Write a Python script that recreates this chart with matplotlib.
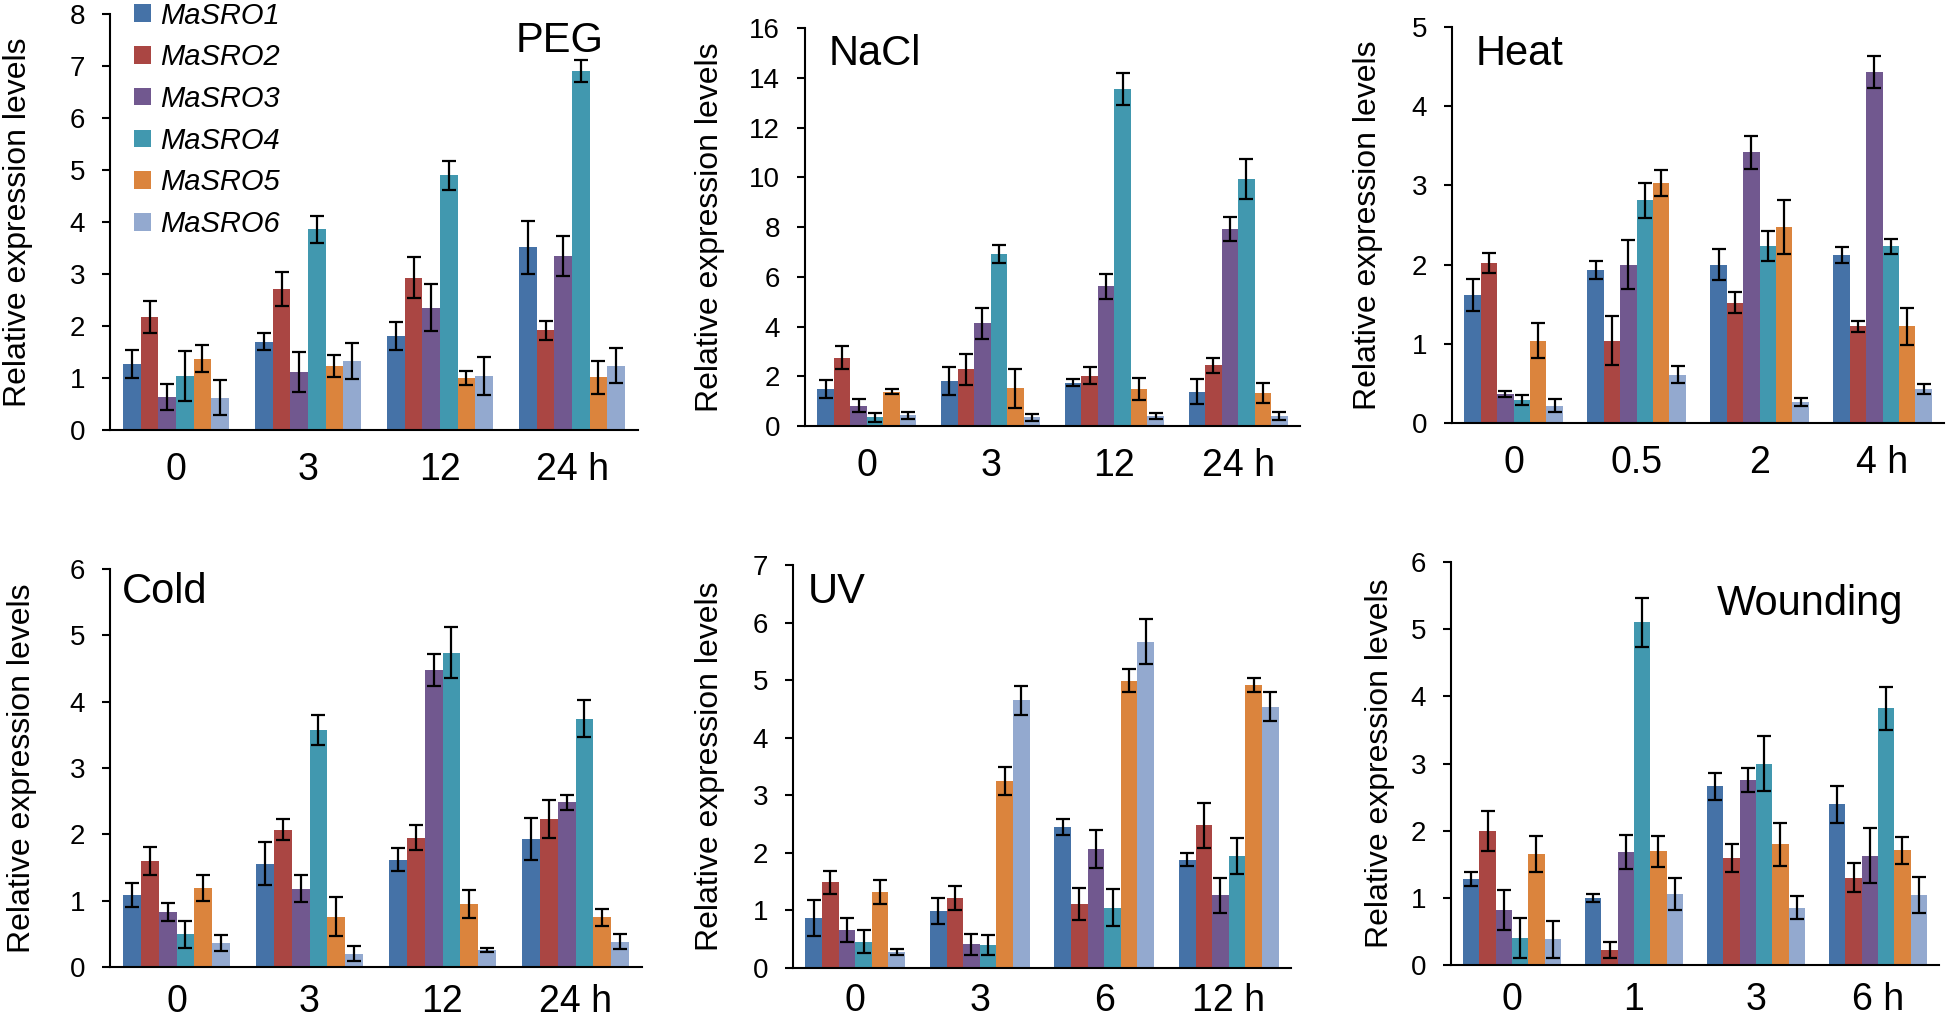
import numpy as np
import matplotlib
matplotlib.use("Agg")
import matplotlib.pyplot as plt

plt.rcParams['font.family'] = ['Liberation Sans', 'DejaVu Sans']

genes = ['MaSRO1', 'MaSRO2', 'MaSRO3', 'MaSRO4', 'MaSRO5', 'MaSRO6']
colors = ['#4572A7', '#AA4643', '#71588F', '#4198AF', '#DB843D', '#93A9CF']

# PEG
peg_times = ['0', '3', '12', '24 h']
peg_mean = [[1.27, 1.70, 1.81, 3.51],
            [2.17, 2.71, 2.93, 1.92],
            [0.64, 1.12, 2.35, 3.35],
            [1.03, 3.86, 4.90, 6.90],
            [1.37, 1.23, 1.00, 1.01],
            [0.62, 1.33, 1.04, 1.24]]
peg_err = [[0.27, 0.16, 0.27, 0.51],
           [0.31, 0.33, 0.40, 0.18],
           [0.25, 0.38, 0.45, 0.39],
           [0.48, 0.26, 0.28, 0.21],
           [0.26, 0.21, 0.14, 0.32],
           [0.34, 0.34, 0.37, 0.33]]

# NaCl
nacl_times = ['0', '3', '12', '24 h']
nacl_mean = [[1.49, 1.81, 1.74, 1.38],
             [2.75, 2.28, 2.03, 2.44],
             [0.82, 4.13, 5.62, 7.92],
             [0.35, 6.90, 13.54, 9.93],
             [1.38, 1.52, 1.48, 1.34],
             [0.43, 0.36, 0.42, 0.40]]
nacl_err = [[0.35, 0.57, 0.14, 0.50],
            [0.46, 0.63, 0.35, 0.30],
            [0.27, 0.62, 0.51, 0.48],
            [0.17, 0.36, 0.65, 0.81],
            [0.10, 0.78, 0.44, 0.40],
            [0.13, 0.14, 0.12, 0.15]]

# Heat
heat_times = ['0', '0.5', '2', '4 h']
heat_mean = [[1.62, 1.93, 2.00, 2.12],
             [2.02, 1.04, 1.52, 1.22],
             [0.37, 2.00, 3.42, 4.43],
             [0.29, 2.81, 2.23, 2.23],
             [1.04, 3.03, 2.47, 1.22],
             [0.22, 0.61, 0.26, 0.43]]
heat_err = [[0.20, 0.11, 0.20, 0.10],
            [0.13, 0.31, 0.13, 0.07],
            [0.04, 0.31, 0.21, 0.20],
            [0.06, 0.22, 0.19, 0.09],
            [0.22, 0.16, 0.34, 0.23],
            [0.08, 0.11, 0.05, 0.06]]

# Cold
cold_times = ['0', '3', '12', '24 h']
cold_mean = [[1.09, 1.56, 1.62, 1.93],
             [1.60, 2.07, 1.95, 2.23],
             [0.83, 1.18, 4.48, 2.48],
             [0.49, 3.57, 4.74, 3.74],
             [1.19, 0.76, 0.95, 0.75],
             [0.36, 0.20, 0.25, 0.38]]
cold_err = [[0.18, 0.32, 0.18, 0.31],
            [0.21, 0.16, 0.19, 0.29],
            [0.13, 0.20, 0.24, 0.12],
            [0.20, 0.23, 0.38, 0.28],
            [0.20, 0.29, 0.21, 0.13],
            [0.12, 0.11, 0.03, 0.11]]

# UV
uv_times = ['0', '3', '6', '12 h']
uv_mean = [[0.87, 0.99, 2.45, 1.88],
           [1.49, 1.21, 1.11, 2.48],
           [0.66, 0.41, 2.07, 1.26],
           [0.46, 0.40, 1.05, 1.95],
           [1.32, 3.25, 4.99, 4.92],
           [0.28, 4.65, 5.67, 4.54]]
uv_err = [[0.31, 0.22, 0.14, 0.11],
          [0.20, 0.21, 0.28, 0.39],
          [0.20, 0.18, 0.33, 0.31],
          [0.20, 0.18, 0.32, 0.31],
          [0.20, 0.24, 0.20, 0.12],
          [0.05, 0.25, 0.39, 0.25]]

# Wounding
wound_times = ['0', '1', '3', '6 h']
wound_mean = [[1.28, 1.00, 2.66, 2.39],
              [2.00, 0.22, 1.59, 1.30],
              [0.82, 1.68, 2.75, 1.63],
              [0.40, 5.10, 3.00, 3.82],
              [1.65, 1.69, 1.80, 1.71],
              [0.38, 1.06, 0.85, 1.04]]
wound_err = [[0.11, 0.06, 0.20, 0.27],
             [0.30, 0.12, 0.21, 0.22],
             [0.30, 0.25, 0.18, 0.41],
             [0.30, 0.37, 0.41, 0.32],
             [0.27, 0.23, 0.32, 0.20],
             [0.27, 0.24, 0.17, 0.27]]

W, H = 1946, 1023
fig = plt.figure(figsize=(W / 100, H / 100), dpi=100)


def px_axes(left, right, top, bottom):
    # pixel box -> figure fraction axes
    return fig.add_axes([left / W, 1 - bottom / H, (right - left) / W, (bottom - top) / H])


def draw(ax, times, mean, err, ymax, step, title, tx, ty, lx, xpad=16):
    x = np.arange(len(times))
    w = 0.8 / 6
    for i in range(6):
        ax.bar(x - 0.4 + w * (i + 0.5), mean[i], w, yerr=err[i], color=colors[i],
               label=genes[i], linewidth=0,
               error_kw=dict(ecolor='black', elinewidth=1.6, capsize=5, capthick=1.6))
    ax.set_xlim(-0.5, len(times) - 0.5)
    ax.set_ylim(0, ymax)
    ax.set_yticks(np.arange(0, ymax + 0.01, step))
    ax.set_xticks(x)
    ax.set_xticklabels(times, fontsize=27)
    ax.tick_params(axis='x', length=0, pad=xpad)
    ax.tick_params(axis='y', labelsize=20, length=6, width=1.5, direction='out', pad=12)
    for s in ['top', 'right']:
        ax.spines[s].set_visible(False)
    for s in ['left', 'bottom']:
        ax.spines[s].set_linewidth(1.5)
    ax.set_ylabel('Relative expression levels', fontsize=23)
    ax.yaxis.set_label_coords(lx, 0.5)
    fig.text(tx / W, 1 - ty / H, title, fontsize=30, ha='left', va='center')


ax1 = px_axes(110, 638, 14, 430)
draw(ax1, peg_times, peg_mean, peg_err, 8, 1, 'PEG', 516, 41, -0.146)
leg = ax1.legend(loc='upper left', bbox_to_anchor=(0.045, 1.03), frameon=False,
                 prop={'style': 'italic', 'size': 21}, handlelength=0.6, handleheight=0.55,
                 handletextpad=0.3, labelspacing=0.47, borderaxespad=0, borderpad=0)

ax2 = px_axes(805, 1300, 28, 426)
draw(ax2, nacl_times, nacl_mean, nacl_err, 16, 2, 'NaCl', 829, 54, -0.162)

ax3 = px_axes(1452, 1944, 27, 423)
draw(ax3, heat_times, heat_mean, heat_err, 5, 1, 'Heat', 1476, 54, -0.140)

ax4 = px_axes(110, 642, 569, 967)
draw(ax4, cold_times, cold_mean, cold_err, 6, 1, 'Cold', 122, 592, -0.137, xpad=12)

ax5 = px_axes(793, 1291, 565, 968)
draw(ax5, uv_times, uv_mean, uv_err, 7, 1, 'UV', 808, 592, -0.137, xpad=11)

ax6 = px_axes(1451, 1939, 562, 965)
draw(ax6, wound_times, wound_mean, wound_err, 6, 1, 'Wounding', 1717, 604, -0.115, xpad=12)

fig.savefig('out.png', dpi=100)
